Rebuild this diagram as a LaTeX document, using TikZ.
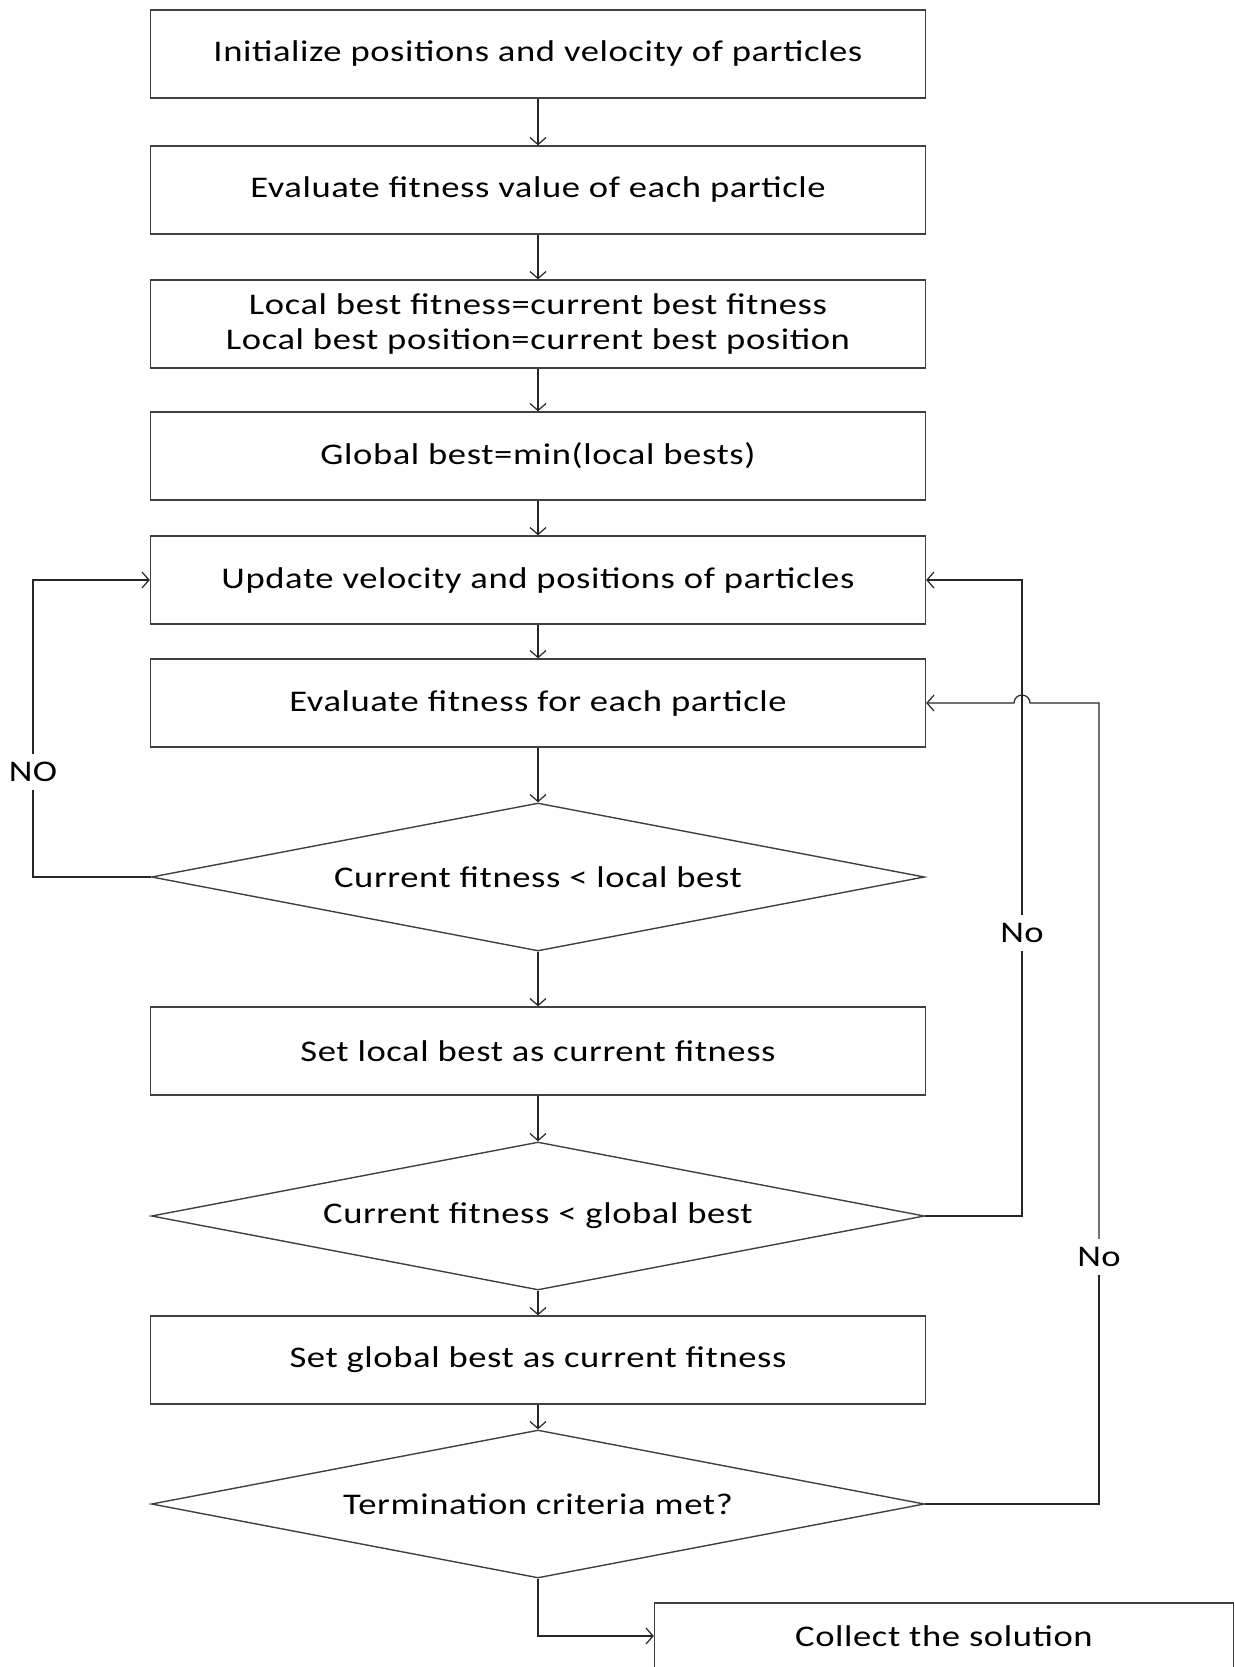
\documentclass[tikz,border=0pt]{standalone}
\usepackage{fontspec}
\setmainfont{Carlito}[FakeStretch=1.22, LetterSpace=2]
\usetikzlibrary{shapes.geometric,arrows.meta}
\begin{document}
\begin{tikzpicture}[x=1pt,y=-1pt,
  font=\fontsize{30}{35}\selectfont,
  stepbox/.style={draw=black!75, line width=1.4pt, minimum width=775pt,
    minimum height=88pt, inner sep=0pt, align=center},
  decision/.style={draw=black!75, line width=1.4pt, diamond, aspect=5,
    minimum width=773pt, minimum height=148pt, inner sep=0pt},
  link/.style={draw=black!85, line width=1.2pt},
  arr/.style={link, -{Straight Barb[length=7pt,width=16pt,line width=1.2pt]}},
  lbl/.style={inner sep=0pt, minimum height=36pt}]
\clip (0,0) rectangle (1234,1667);
\fill[white] (0,0) rectangle (1234,1667);

% main column
\node[stepbox] (b1) at (538,54)  {Initialize positions and velocity of particles};
\node[stepbox] (b2) at (538,190) {Evaluate fitness value of each particle};
\node[stepbox] (b3) at (538,324) {Local best fitness=current best fitness\\Local best position=current best position};
\node[stepbox] (b4) at (538,456) {Global best=min(local bests)};
\node[stepbox] (b5) at (538,580) {Update velocity and positions of particles};
\node[stepbox] (b6) at (538,703) {Evaluate fitness for each particle};
\node[decision] (d1) at (538,877) {Current fitness < local best};
\node[stepbox] (b7) at (538,1051) {Set local best as current fitness};
\node[decision] (d2) at (538,1216) {Current fitness < global best};
\node[stepbox] (b8) at (538,1360) {Set global best as current fitness};
\node[decision] (d3) at (538,1504) {Termination criteria met?};
\node[stepbox, minimum width=579pt, minimum height=66pt] (b9) at (944,1636) {Collect the solution};

% straight flow
\draw[arr] (b1) -- (b2);
\draw[arr] (b2) -- (b3);
\draw[arr] (b3) -- (b4);
\draw[arr] (b4) -- (b5);
\draw[arr] (b5) -- (b6);
\draw[arr] (b6) -- (d1);
\draw[arr] (d1) -- (b7);
\draw[arr] (b7) -- (d2);
\draw[arr] (d2) -- (b8);
\draw[arr] (b8) -- (d3);
\draw[arr] (d3.south) |- (b9.west);

% labels sitting in gaps of the loop lines
\node[lbl] (nol) at (33,772) {NO};
\node[lbl] (no1) at (1022,933) {No};
\node[lbl] (no2) at (1099,1257) {No};

% left loop: back to the velocity update
\draw[link] (d1.west) -| (nol.south);
\draw[arr] (nol.north) |- (b5.west);

% right loop: back to the velocity update
\draw[link] (d2.east) -| (no1.south);
\draw[arr] (no1.north) |- (b5.east);

% outer loop: back to fitness evaluation, hopping over the inner loop
\coordinate (j) at (no1 |- b6.east);
\draw[link] (d3.east) -| (no2.south);
\draw[arr] (no2.north) |- ([xshift=8pt]j)
  arc[start angle=0, end angle=180, radius=8pt] -- (b6.east);
\end{tikzpicture}
\end{document}
